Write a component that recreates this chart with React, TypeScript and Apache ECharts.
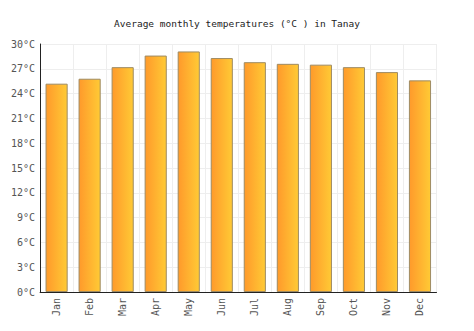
import React, { useEffect, useRef } from "react";
import * as echarts from "echarts";

const months = ["Jan", "Feb", "Mar", "Apr", "May", "Jun", "Jul", "Aug", "Sep", "Oct", "Nov", "Dec"];
const temps = [25.2, 25.8, 27.2, 28.6, 29.1, 28.3, 27.8, 27.6, 27.5, 27.2, 26.6, 25.6];
const titleText = "Average monthly temperatures (°C ) in Tanay";

export default function App() {
  const ref = useRef<HTMLDivElement>(null);
  useEffect(() => {
    if (!ref.current) return;
    const chart = echarts.init(ref.current, undefined, { renderer: "svg" });
    const font = "DejaVu Sans Mono";
    chart.setOption({
      animation: false,
      title: {
        text: titleText,
        left: "center",
        top: 5,
        textStyle: { fontFamily: font, fontSize: 9.5, fontWeight: "normal", color: "#222" },
      },
      grid: { left: 30, right: 29.5, top: 36, bottom: 31, containLabel: false },
      xAxis: {
        type: "category",
        data: months,
        boundaryGap: true,
        axisLine: { show: true, lineStyle: { color: "#222", width: 1 } },
        axisTick: { show: false },
        splitLine: { show: true, interval: 0, lineStyle: { color: "#eeeeee" } },
        axisLabel: { rotate: 90, fontFamily: font, fontSize: 10, color: "#555", margin: 6, interval: 0 },
      },
      yAxis: {
        type: "value",
        min: 0,
        max: 30,
        interval: 3,
        axisLine: { show: true, lineStyle: { color: "#222", width: 1 } },
        axisTick: { show: false },
        splitLine: { show: true, lineStyle: { color: "#eeeeee" } },
        axisLabel: { formatter: "{value}°C", fontFamily: font, fontSize: 10, color: "#555", margin: 5 },
      },
      series: [
        {
          type: "bar",
          data: temps,
          barWidth: "67%",
          itemStyle: {
            color: new echarts.graphic.LinearGradient(0, 0, 1, 0, [
              { offset: 0, color: "#FF9A2B" },
              { offset: 1, color: "#FFCA35" },
            ]),
            borderColor: "#9E8B63",
            borderWidth: 1,
          },
        },
      ],
    });
    return () => chart.dispose();
  }, []);
  return <div ref={ref} style={{ width: 458, height: 315 }} />;
}
